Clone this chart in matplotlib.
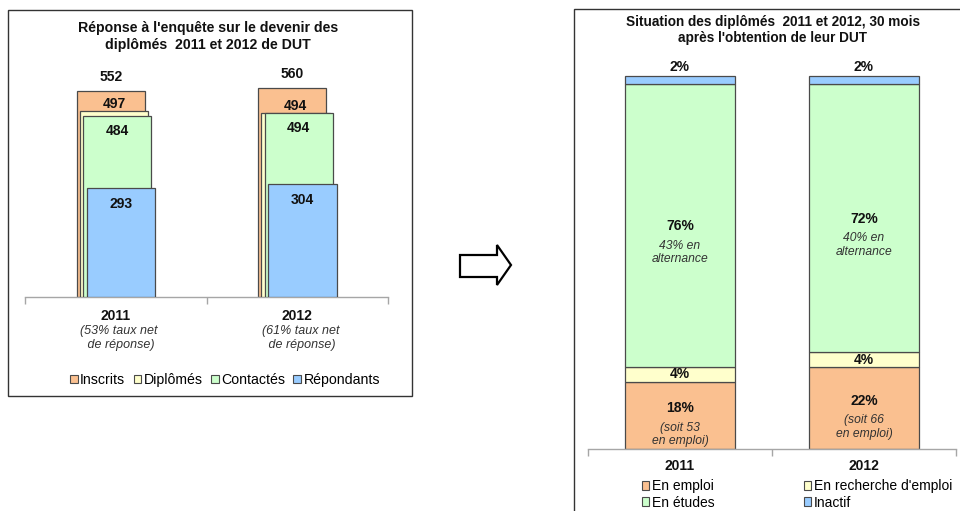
import matplotlib
matplotlib.use('Agg')
import matplotlib.pyplot as plt
from matplotlib.patches import Rectangle, Polygon, Patch

plt.rcParams['font.family'] = ['Liberation Sans', 'DejaVu Sans']

# ---------------- data ----------------
years = ['2011', '2012']

left_title = "Réponse à l'enquête sur le devenir des\ndiplômés  2011 et 2012 de DUT"
left_series = ['Inscrits', 'Diplômés', 'Contactés', 'Répondants']
inscrits = [552, 560]
diplomes = [497, 494]
contactes = [484, 494]
repondants = [293, 304]
taux_net = ['(53% taux net\n de réponse)', '(61% taux net\n de réponse)']

right_title = "Situation des diplômés  2011 et 2012, 30 mois\naprès l'obtention de leur DUT"
right_series = ['En emploi', "En recherche d'emploi", 'En études', 'Inactif']
en_emploi = [18, 22]
en_recherche = [4, 4]
en_etudes = [76, 72]
inactif = [2, 2]
alternance = ['43% en\nalternance', '40% en\nalternance']
soit_emploi = ['(soit 53\nen emploi)', '(soit 66\nen emploi)']

# ---------------- styling ----------------
W, H = 960, 511
C_OR = '#FAC090'
C_YE = '#FFFFCC'
C_GR = '#CCFFCC'
C_BL = '#99CCFF'
EDGE = '#4a4a4a'
SUBC = '#333333'
AXC = '#a6a6a6'
PX = 0.72  # pixels -> points


def fx(x):
    return x / W


def fy(y):
    return 1 - y / H


fig = plt.figure(figsize=(9.6, 5.11), dpi=100)
fig.patch.set_facecolor('white')

# panel frames
fig.patches.append(Rectangle((fx(8), fy(396)), fx(412) - fx(8), (396 - 10) / H,
                             transform=fig.transFigure, fill=False,
                             edgecolor='#333333', lw=1.0, zorder=0))
fig.patches.append(Rectangle((fx(574), fy(520)), fx(975) - fx(574), (520 - 9) / H,
                             transform=fig.transFigure, fill=False,
                             edgecolor='#333333', lw=1.0, zorder=0))

# arrow
arrow_px = [(460, 255), (497, 255), (497, 245), (511, 265), (497, 285), (497, 277), (460, 277)]
fig.patches.append(Polygon([(fx(a), fy(b)) for a, b in arrow_px], closed=True,
                           transform=fig.transFigure, facecolor='white',
                           edgecolor='black', lw=1.6, joinstyle='miter'))

# ---------------- left chart ----------------
axL = fig.add_axes([fx(25), fy(297), fx(388) - fx(25), (297 - 73) / H])
axL.set_xlim(-0.5, 1.5)
axL.set_ylim(0, 600)
xs = [0, 1]
offs = [-0.027, -0.01, 0.008, 0.029]
colsL = [C_OR, C_YE, C_GR, C_BL]
valsL = [inscrits, diplomes, contactes, repondants]
lab_dy = [14, 7, -15, -16]  # px, + = above top
for k in range(4):
    xk = [x + offs[k] for x in xs]
    axL.bar(xk, valsL[k], width=0.376, color=colsL[k], edgecolor=EDGE, lw=0.9,
            zorder=2 + k)
    for x, v in zip(xk, valsL[k]):
        axL.annotate(str(v), xy=(x, v), xytext=(0, lab_dy[k] * PX),
                     textcoords='offset points', ha='center', va='center',
                     fontsize=10, fontweight='bold', color='#111111', zorder=10)
for i, x in enumerate(xs):
    axL.annotate(years[i], xy=(x, 0), xytext=(0, -19 * PX), textcoords='offset points',
                 ha='center', va='center', fontsize=10, fontweight='bold',
                 color='#111111', annotation_clip=False)
    axL.annotate(taux_net[i], xy=(x, 0), xytext=(3 * PX, -41 * PX),
                 textcoords='offset points', ha='center', va='center',
                 fontsize=9, fontstyle='italic', color=SUBC,
                 linespacing=1.25, annotation_clip=False)

# ---------------- right chart ----------------
axR = fig.add_axes([fx(588), fy(449), fx(956) - fx(588), (449 - 39) / H])
axR.set_xlim(-0.5, 1.5)
axR.set_ylim(0, 110)
valsR = [en_emploi, en_recherche, en_etudes, inactif]
colsR = [C_OR, C_YE, C_GR, C_BL]
bottoms = [0, 0]
seg_centers = []
for k in range(4):
    axR.bar(xs, valsR[k], width=0.6, bottom=bottoms, color=colsR[k],
            edgecolor=EDGE, lw=0.9, zorder=2)
    seg_centers.append([b + v / 2 for b, v in zip(bottoms, valsR[k])])
    bottoms = [b + v for b, v in zip(bottoms, valsR[k])]

for i, x in enumerate(xs):
    # En emploi
    axR.annotate(f'{en_emploi[i]}%', xy=(x, seg_centers[0][i]), xytext=(0, 7 * PX),
                 textcoords='offset points', ha='center', va='center',
                 fontsize=10, fontweight='bold', color='#111111')
    axR.annotate(soit_emploi[i], xy=(x, seg_centers[0][i]), xytext=(0, -19 * PX),
                 textcoords='offset points', ha='center', va='center',
                 fontsize=8.7, fontstyle='italic', color=SUBC, linespacing=1.15)
    # En recherche
    axR.annotate(f'{en_recherche[i]}%', xy=(x, seg_centers[1][i]), xytext=(0, 0),
                 textcoords='offset points', ha='center', va='center',
                 fontsize=10, fontweight='bold', color='#111111')
    # En études
    axR.annotate(f'{en_etudes[i]}%', xy=(x, seg_centers[2][i]), xytext=(0, -1 * PX),
                 textcoords='offset points', ha='center', va='center',
                 fontsize=10, fontweight='bold', color='#111111')
    axR.annotate(alternance[i], xy=(x, seg_centers[2][i]), xytext=(0, -27 * PX),
                 textcoords='offset points', ha='center', va='center',
                 fontsize=8.7, fontstyle='italic', color=SUBC, linespacing=1.15)
    # Inactif
    axR.annotate(f'{inactif[i]}%', xy=(x, bottoms[i]), xytext=(0, 9 * PX),
                 textcoords='offset points', ha='center', va='center',
                 fontsize=10, fontweight='bold', color='#111111')
    axR.annotate(years[i], xy=(x, 0), xytext=(0, -17 * PX), textcoords='offset points',
                 ha='center', va='center', fontsize=10, fontweight='bold',
                 color='#111111', annotation_clip=False)

# axes styling
for ax in [axL, axR]:
    ax.set_facecolor('none')
    for s in ['top', 'right', 'left']:
        ax.spines[s].set_visible(False)
    ax.spines['bottom'].set_color(AXC)
    ax.spines['bottom'].set_linewidth(1.0)
    ax.set_yticks([])
    ax.set_xticks([-0.5, 0.5, 1.5])
    ax.set_xticklabels([])
    ax.tick_params(axis='x', direction='out', length=5, width=1.0, color=AXC)

# titles
fig.text(fx(208), fy(36.5), left_title, ha='center', va='center', fontsize=10.2,
         fontweight='bold', color='#111111', linespacing=1.25)
fig.text(fx(773), fy(30), right_title, ha='center', va='center', fontsize=9.8,
         fontweight='bold', color='#111111', linespacing=1.2)

# legends
hL = [Patch(facecolor=c, edgecolor=EDGE, lw=0.8) for c in colsL]
fig.legend(hL, left_series, loc='center', bbox_to_anchor=(fx(225), fy(380)),
           ncol=4, frameon=False, fontsize=10.2, handlelength=0.55, handleheight=0.55,
           handletextpad=0.15, columnspacing=0.6, borderaxespad=0, borderpad=0)

hR = [Patch(facecolor=c, edgecolor=EDGE, lw=0.8) for c in colsR]
order = [0, 2, 1, 3]
fig.legend([hR[j] for j in order], [right_series[j] for j in order], loc='center',
           bbox_to_anchor=(fx(797), fy(494.5)), ncol=2, frameon=False, fontsize=10,
           handlelength=0.55, handleheight=0.55, handletextpad=0.2,
           columnspacing=6.4, labelspacing=0.15, borderaxespad=0, borderpad=0)

fig.savefig('out.png', dpi=100, facecolor='white')
